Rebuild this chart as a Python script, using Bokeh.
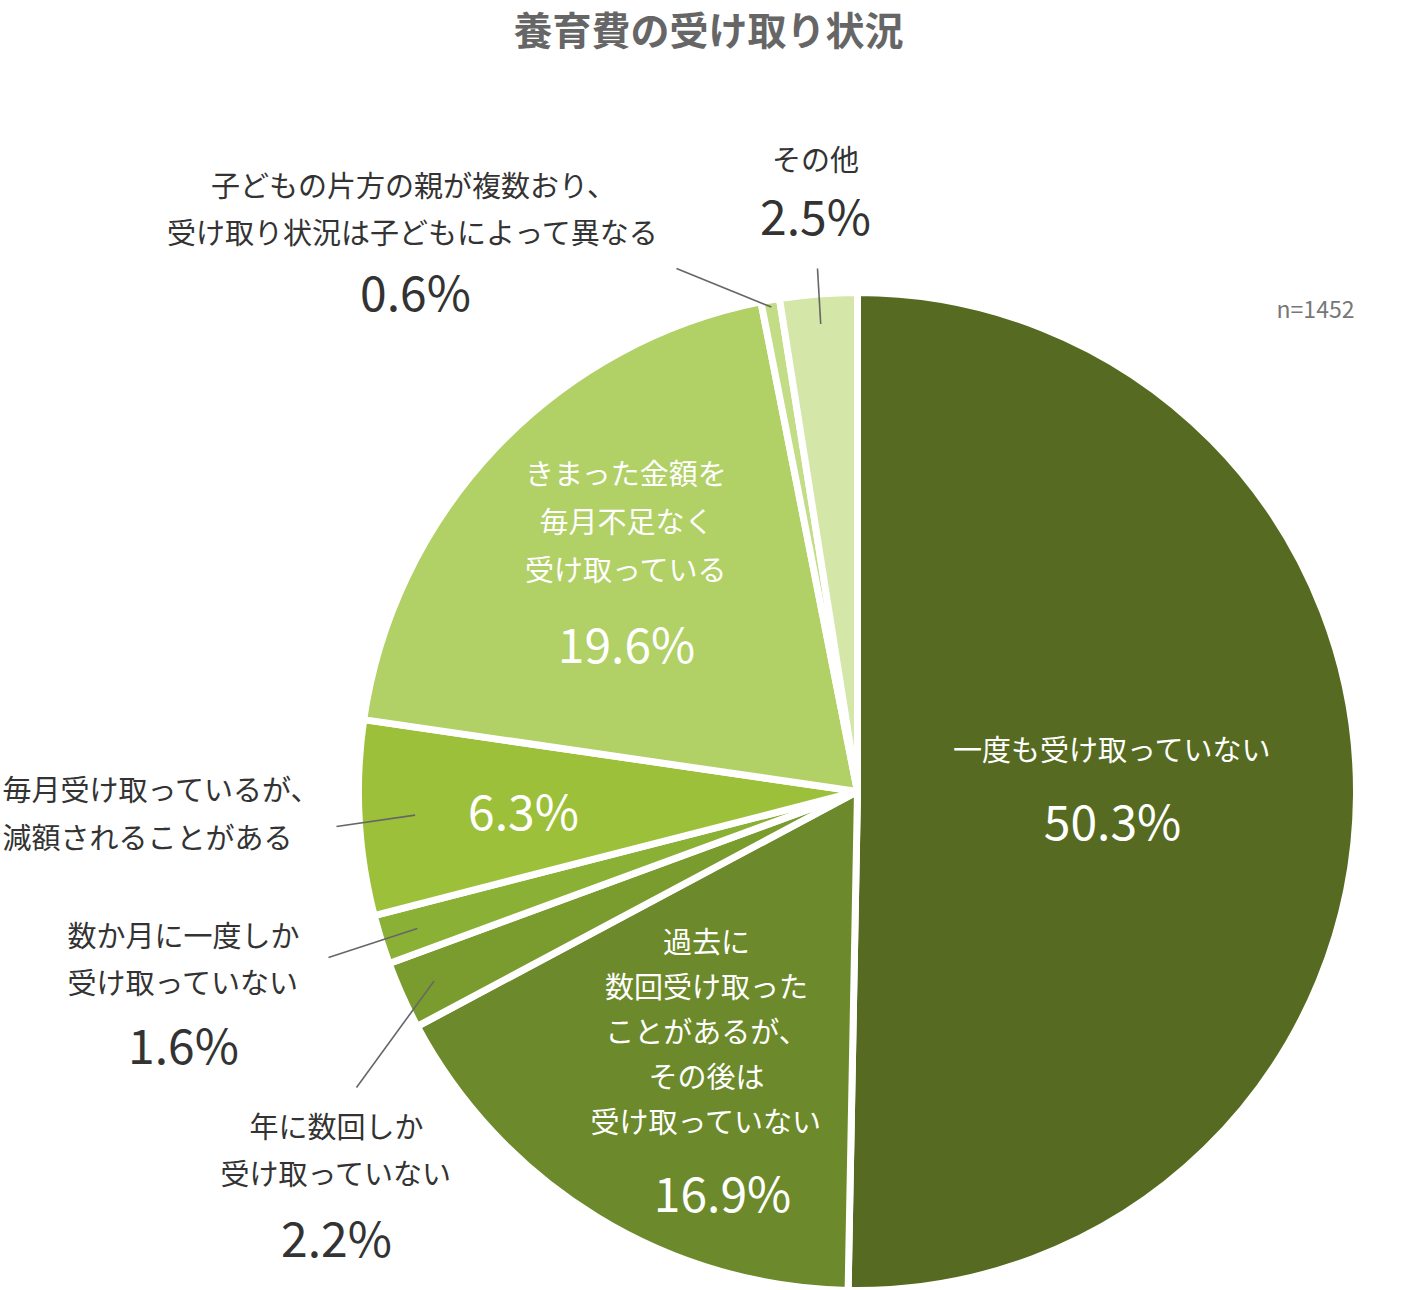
import math
from bokeh.plotting import figure
from bokeh.models import Range1d, ColumnDataSource
from bokeh.core.properties import value
from bokeh.embed import file_html
from bokeh.resources import INLINE

# ---- data ----
title = "養育費の受け取り状況"
categories = [
    "一度も受け取っていない",
    "過去に数回受け取ったことがあるが、その後は受け取っていない",
    "年に数回しか受け取っていない",
    "数か月に一度しか受け取っていない",
    "毎月受け取っているが、減額されることがある",
    "きまった金額を毎月不足なく受け取っている",
    "子どもの片方の親が複数おり、受け取り状況は子どもによって異なる",
    "その他",
]
shares = [50.3, 16.9, 2.2, 1.6, 6.3, 19.6, 0.6, 2.5]
pct_labels = ["50.3%", "16.9%", "2.2%", "1.6%", "6.3%", "19.6%", "0.6%", "2.5%"]
label_lines = [
    ["一度も受け取っていない"],
    ["過去に", "数回受け取った", "ことがあるが、", "その後は", "受け取っていない"],
    ["年に数回しか", "受け取っていない"],
    ["数か月に一度しか", "受け取っていない"],
    ["毎月受け取っているが、", "減額されることがある"],
    ["きまった金額を", "毎月不足なく", "受け取っている"],
    ["子どもの片方の親が複数おり、", "受け取り状況は子どもによって異なる"],
    ["その他"],
]
colors = ["#566b21", "#6c8a2b", "#7a9c2f", "#8bb036", "#9dc03a", "#b1d065", "#c3dc86", "#d4e6a8"]
n_label = "n=1452"

# ---- layout (screen pixel helpers) ----
W, H = 1416, 1290
FONT = "Noto Sans CJK JP"


def X(px):
    return px


def Y(py):
    return H - py


p = figure(width=W, height=H, output_backend="svg", toolbar_location=None,
           x_range=Range1d(0, W), y_range=Range1d(0, H), min_border=0)
p.axis.visible = False
p.grid.visible = False
p.outline_line_color = None
p.background_fill_color = "white"
p.border_fill_color = "white"

cx, cy, R = X(857), Y(791), 499
total = sum(shares)
starts, ends, mids = [], [], []
cum = 0.0
for s in shares:
    c0 = cum / total
    cum += s
    c1 = cum / total
    starts.append(math.pi / 2 - c1 * 2 * math.pi)
    ends.append(math.pi / 2 - c0 * 2 * math.pi)
    mids.append(math.pi / 2 - (c0 + c1) / 2 * 2 * math.pi)

src = ColumnDataSource(dict(x=[cx] * len(shares), y=[cy] * len(shares),
                            start=starts, end=ends, color=colors, cat=categories))
p.wedge(x="x", y="y", radius=R, start_angle="start", end_angle="end",
        fill_color="color", line_color="white", line_width=7, source=src)

WHITE = "#ffffff"
DARK = "#333333"
LBL = 29
PCT = 48


def txt(x, y, s, size, color, align="center", style="normal", dy=0):
    p.text(x=[X(x)], y=[Y(y + dy)], text=[s], text_font=value(FONT),
           text_font_size=f"{size}px", text_color=color, text_align=align,
           text_baseline="middle", text_font_style=style)


def lbl(x, y, s, color, align="center"):
    txt(x, y, s, LBL, color, align=align, dy=-3)


def pct(x, y, s, color):
    txt(x, y, s, PCT, color, dy=-5)


# title
txt(708, 32, title, 39, "#666666", style="bold", dy=-5)
# n
txt(1315, 310, n_label, 23, "#777777", dy=-3)

# slice 0 (inside)
lbl(1112, 750, label_lines[0][0], WHITE)
pct(1112, 823, pct_labels[0], WHITE)
# slice 1 (inside)
for i, ln in enumerate(label_lines[1]):
    lbl(706, 942 + i * 45, ln, WHITE)
pct(722, 1195, pct_labels[1], WHITE)
# slice 2 (outside)
for i, ln in enumerate(label_lines[2]):
    lbl(336, 1127 + i * 47, ln, DARK)
pct(336, 1240, pct_labels[2], DARK)
# slice 3 (outside)
for i, ln in enumerate(label_lines[3]):
    lbl(183, 936 + i * 47, ln, DARK)
pct(183, 1047, pct_labels[3], DARK)
# slice 4: label outside, pct inside
for i, ln in enumerate(label_lines[4]):
    lbl(2, 790 + i * 48, ln, DARK, align="left")
pct(523, 813, pct_labels[4], WHITE)
# slice 5 (inside)
for i, ln in enumerate(label_lines[5]):
    lbl(626, 474 + i * 48, ln, WHITE)
pct(626, 646, pct_labels[5], WHITE)
# slice 6 (outside)
for i, ln in enumerate(label_lines[6]):
    lbl(413, 186 + i * 47, ln, DARK)
pct(415, 294, pct_labels[6], DARK)
# slice 7 (outside)
lbl(815, 160, label_lines[7][0], DARK)
pct(815, 218, pct_labels[7], DARK)

# leader lines: inner end on slice mid-angle, outer end near label
leaders = [  # (slice index, inner radius, outer screen point)
    (2, 464, (356, 1087)),
    (3, 461, (328, 957)),
    (4, 443, (336, 826)),
    (6, 492, (676, 268)),
    (7, 469, (817, 268)),
]
x0s, y0s, x1s, y1s = [], [], [], []
for idx, r_in, (ox, oy) in leaders:
    a = mids[idx]
    x0s.append(cx + r_in * math.cos(a))
    y0s.append(cy + r_in * math.sin(a))
    x1s.append(X(ox))
    y1s.append(Y(oy))
p.segment(x0=x0s, y0=y0s, x1=x1s, y1=y1s, line_color="#666666", line_width=1.6)

open("out.html", "w").write(file_html(p, INLINE))
